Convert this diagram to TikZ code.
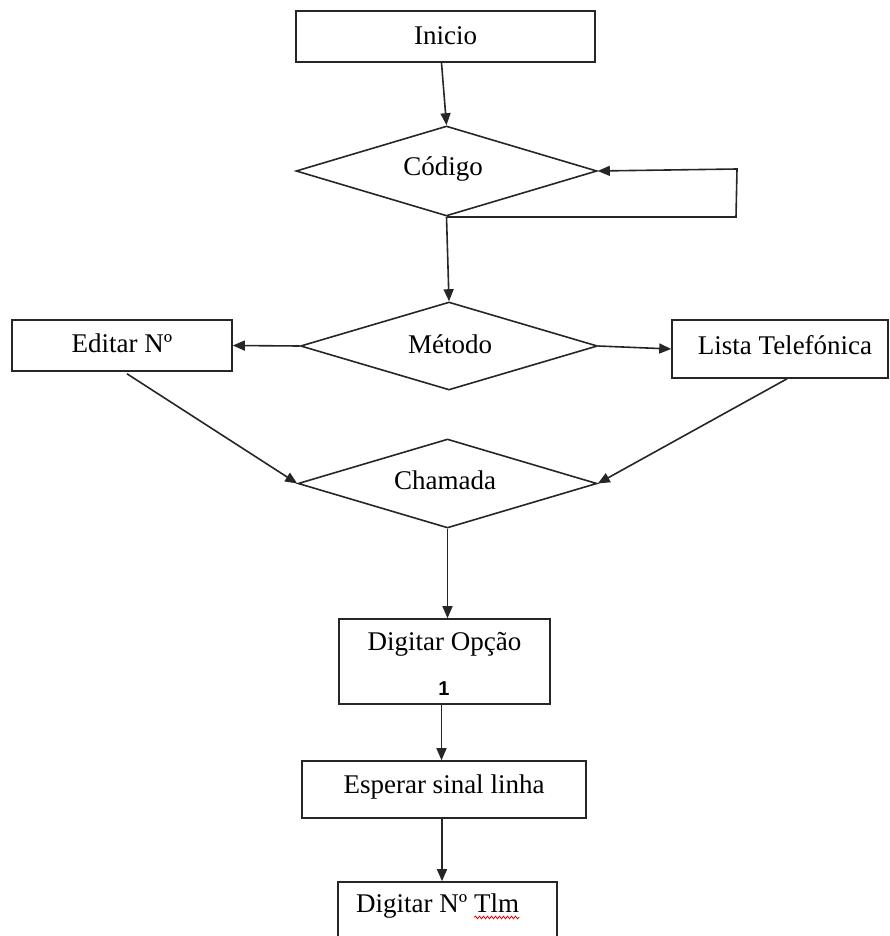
\documentclass[tikz,border=0pt]{standalone}
\usepackage{fontspec}
\setmainfont{Liberation Serif}
\newfontfamily\digitfont{Liberation Sans}
\usetikzlibrary{arrows.meta,calc,shapes.geometric,decorations.pathmorphing}

\tikzset{
  flowline/.style={line width=1.6pt, draw=black!85},
  flowarrow/.style={flowline, -{Triangle[length=12pt,width=10pt]}},
  stepbox/.style={draw=black!85, line width=1.6pt, rectangle, inner sep=0pt},
  decisionbox/.style={draw=black!85, line width=1.6pt, diamond, inner sep=0pt},
  caption/.style={inner sep=0pt, font=\fontsize{27}{31}\selectfont},
}

\begin{document}
\begin{tikzpicture}[x=1pt, y=-1pt]
  \clip (0,0) rectangle (889,936);

  % process boxes
  \node[stepbox, minimum width=299pt, minimum height=51pt] (inicio) at (445.5,36.5) {};
  \node[caption] (inicioT) at (445.5,36) {Inicio};

  \node[stepbox, minimum width=220pt, minimum height=51pt] (editar) at (122,345.5) {};
  \node[caption] (editarT) at (122,343) {Editar Nº};

  \node[stepbox, minimum width=216pt, minimum height=58pt] (lista) at (780,349) {};
  \node[caption] (listaT) at (785,345) {Lista Telefónica};

  \node[stepbox, minimum width=211pt, minimum height=85pt] (opcao) at (444.5,661.5) {};
  \node[caption] (opcaoT) at (444.5,644) {Digitar Opção};
  \node[inner sep=0pt, font=\digitfont\bfseries\fontsize{20}{22}\selectfont] (opcaoN) at (444,689) {1};

  \node[stepbox, minimum width=284pt, minimum height=57pt] (espera) at (444,789.5) {};
  \node[caption] (esperaT) at (444,787) {Esperar sinal linha};

  \node[stepbox, minimum width=219pt, minimum height=70pt] (numero) at (447.5,917) {};
  \node[caption, anchor=west] (numeroT) at (356,906) {Digitar Nº Tlm};
  \draw[red!85!black, line width=0.8pt,
        decorate, decoration={snake, amplitude=1.3pt, segment length=4pt}]
    ($(numeroT.base east)+(-45,5)$) -- ($(numeroT.base east)+(0,5)$);

  % decisions
  \node[decisionbox, minimum width=301pt, minimum height=90pt] (codigo) at (446.5,171) {};
  \node[caption] (codigoT) at (443,169) {Código};

  \node[decisionbox, minimum width=297pt, minimum height=88pt] (metodo) at (449,346) {};
  \node[caption] (metodoT) at (450,344) {Método};

  \node[decisionbox, minimum width=299pt, minimum height=89pt] (chamada) at (447.5,483.5) {};
  \node[caption] (chamadaT) at (445,480) {Chamada};

  % loop back into the code check
  \coordinate (loopB) at (736,217);
  \coordinate (loopT) at (737,169);

  % connectors
  \draw[flowarrow] ([xshift=-4pt]inicio.south) -- (codigo.north);
  \draw[flowline] (codigo.south) -- (codigo.south -| loopB) -- (loopB);
  \draw[flowarrow] (loopB) -- (loopT) -- (codigo.east);
  \draw[flowarrow] (codigo.south) -- (metodo.north);
  \draw[flowarrow] (metodo.west) -- (editar.east);
  \draw[flowarrow] (metodo.east) -- (lista.west);
  \draw[flowarrow] ([xshift=5pt,yshift=-2pt]editar.south) -- (chamada.west);
  \draw[flowarrow] ([xshift=7pt]lista.south) -- (chamada.east);
  \draw[flowarrow] (chamada.south) -- (chamada.south |- opcao.north);
  \draw[flowarrow] ([xshift=-3pt]opcao.south) -- ([xshift=-3pt]opcao.south |- espera.north);
  \draw[flowarrow] ([xshift=-2pt]espera.south) -- ([xshift=-2pt]espera.south |- numero.north);
\end{tikzpicture}
\end{document}
